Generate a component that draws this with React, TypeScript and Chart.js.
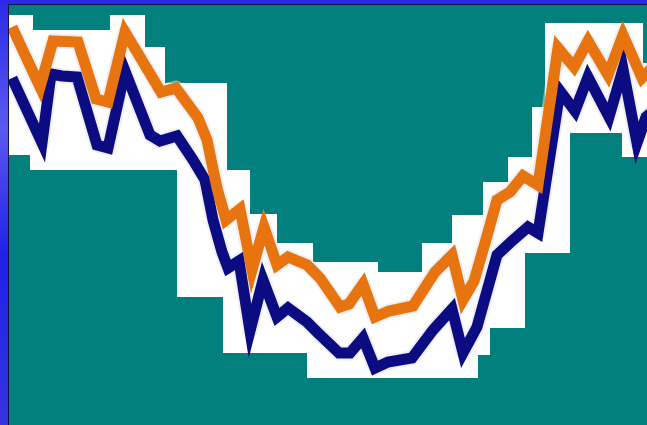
import React, { useEffect, useRef } from "react";
import { Chart, registerables } from "chart.js";

Chart.register(...registerables);

// x: day offset, y: index level
const orangeDays = [3, 31, 44, 69, 87, 99, 116, 152, 167, 189, 198, 208, 217, 231, 243, 255, 268, 279, 298, 311, 331, 340, 354, 366, 380, 404, 426, 443, 454, 465, 476, 488, 501, 514, 529, 549, 565, 579, 599, 614, 633, 643];
const orangeValues = [398, 338, 384, 383, 326, 323, 393, 333, 337, 307, 285, 237, 205, 216, 155, 198, 160, 168, 160, 147, 118, 121, 141, 108, 114, 119, 153, 170, 125, 144, 182, 225, 233, 249, 240, 377, 358, 384, 350, 390, 347, 357];

const navyDays = [3, 33, 42, 53, 68, 88, 99, 116, 141, 151, 168, 184, 196, 204, 213, 219, 230, 241, 254, 268, 279, 298, 309, 330, 341, 354, 366, 379, 403, 424, 443, 454, 468, 488, 504, 519, 529, 551, 566, 579, 600, 614, 628, 637, 643];
const navyValues = [347, 282, 351, 349, 348, 280, 277, 354, 290, 284, 289, 265, 245, 205, 173, 157, 164, 94, 145, 108, 117, 103, 92, 72, 72, 87, 57, 63, 67, 95, 116, 72, 98, 170, 185, 198, 192, 334, 314, 348, 308, 356, 282, 308, 313];

// upper and lower edges of the band
const bandTopDays = [0, 24, 101, 136, 156, 218, 241, 268, 304, 369, 413, 443, 474, 499, 523, 536, 634, 638];
const bandTopValues = [410, 395, 410, 378, 342, 255, 211, 182, 163, 153, 182, 210, 243, 268, 318, 402, 362, 362];
const bandLowDays = [0, 21, 168, 214, 298, 469, 481, 516, 561, 613, 638];
const bandLowValues = [270, 255, 128, 72, 47, 70, 97, 172, 292, 268, 268];

const TEAL = "#01807e";
const ORANGE = "#e8740f";
const NAVY = "#0c0c82";

const toPts = (xs: number[], ys: number[]) => xs.map((x, i) => ({ x, y: ys[i] }));

const bgPlugin = {
  id: "bgPlugin",
  beforeDraw(chart: any) {
    const { ctx, width, height, chartArea } = chart;
    ctx.save();
    const g = ctx.createLinearGradient(0, 0, 0, height);
    g.addColorStop(0, "#2a2ae6");
    g.addColorStop(0.3, "#5a5af0");
    g.addColorStop(0.6, "#2020e8");
    g.addColorStop(1, "#3434e0");
    ctx.fillStyle = g;
    ctx.fillRect(0, 0, width, height);
    ctx.fillStyle = "#10104a";
    ctx.fillRect(chartArea.left - 1, chartArea.top - 1, width, 1);
    ctx.fillRect(chartArea.left - 1, chartArea.top - 1, 1, height);
    ctx.fillStyle = "#ffffff";
    ctx.fillRect(chartArea.left, chartArea.top, chartArea.right - chartArea.left, chartArea.bottom - chartArea.top);
    ctx.restore();
  },
};

export default function App() {
  const ref = useRef<HTMLCanvasElement | null>(null);
  useEffect(() => {
    document.body.style.margin = "0";
    const canvas = ref.current!;
    const halo = "rgba(225,225,235,0.55)";
    const chart = new Chart(canvas, {
      type: "line",
      data: {
        datasets: [
          {
            label: "band top",
            data: toPts(bandTopDays, bandTopValues),
            stepped: true,
            fill: "end",
            backgroundColor: TEAL,
            borderColor: "rgba(0,0,0,0)",
            borderWidth: 1,
            pointRadius: 0,
            order: 10,
          },
          {
            label: "band low",
            data: toPts(bandLowDays, bandLowValues),
            stepped: true,
            fill: "start",
            backgroundColor: TEAL,
            borderColor: "rgba(0,0,0,0)",
            borderWidth: 1,
            pointRadius: 0,
            order: 10,
          },
          {
            label: "navy halo",
            data: toPts(navyDays, navyValues),
            borderColor: halo,
            borderWidth: 15,
            borderJoinStyle: "round",
            pointRadius: 0,
            fill: false,
            order: 5,
          },
          {
            label: "orange halo",
            data: toPts(orangeDays, orangeValues),
            borderColor: halo,
            borderWidth: 15,
            borderJoinStyle: "round",
            pointRadius: 0,
            fill: false,
            order: 5,
          },
          {
            label: "navy",
            data: toPts(navyDays, navyValues),
            borderColor: NAVY,
            borderWidth: 11,
            borderJoinStyle: "miter",
            pointRadius: 0,
            fill: false,
            order: 1,
          },
          {
            label: "orange",
            data: toPts(orangeDays, orangeValues),
            borderColor: ORANGE,
            borderWidth: 11,
            borderJoinStyle: "miter",
            pointRadius: 0,
            fill: false,
            order: 0,
          },
        ],
      },
      options: {
        responsive: false,
        animation: false,
        devicePixelRatio: 1,
        layout: { padding: { left: 9, top: 5, right: 0, bottom: 0 } },
        elements: { line: { tension: 0 } },
        plugins: { legend: { display: false }, tooltip: { enabled: false } },
        scales: {
          x: { type: "linear", display: false, min: 0, max: 638 },
          y: { type: "linear", display: false, min: 0, max: 420 },
        },
      },
      plugins: [bgPlugin],
    } as any);
    return () => chart.destroy();
  }, []);
  return (
    <div style={{ position: "fixed", left: 0, top: 0, width: 647, height: 425 }}>
      <canvas ref={ref} width={647} height={425} style={{ display: "block", width: 647, height: 425 }} />
    </div>
  );
}
